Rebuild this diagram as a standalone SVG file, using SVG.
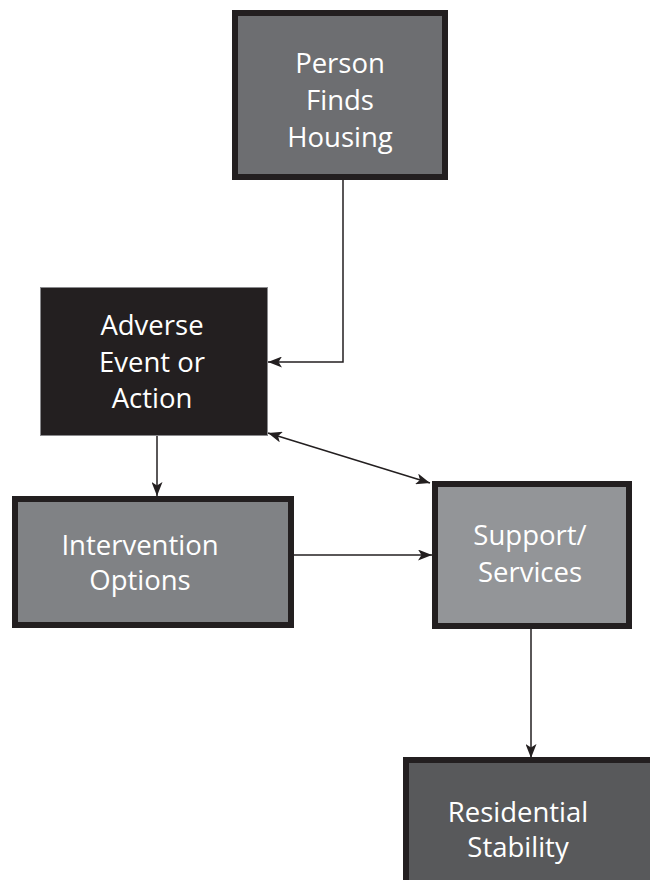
<svg xmlns="http://www.w3.org/2000/svg" width="650" height="880" viewBox="0 0 650 880">
<style>
.box{stroke:#231f20;stroke-width:6}
.t{font-family:"Open Sans","Liberation Sans",sans-serif;font-size:27.5px;fill:#ffffff;text-anchor:middle}
.c{fill:none;stroke:#231f20;stroke-width:1.5}
</style>
<defs>
<marker id="ah" viewBox="0 0 14 11" refX="14" refY="5.5" markerWidth="14" markerHeight="11" markerUnits="userSpaceOnUse" orient="auto-start-reverse">
<path d="M0,0 L14,5.5 L0,11 L3.5,5.5 Z" fill="#231f20"/>
</marker>
</defs>
<rect width="650" height="880" fill="#ffffff"/>
<g id="connectors">
<polyline class="c" points="343,180 343,362 268,362" marker-end="url(#ah)"/>
<line class="c" x1="157" y1="436" x2="157" y2="496" marker-end="url(#ah)"/>
<line class="c" x1="268" y1="433" x2="430" y2="483" marker-start="url(#ah)" marker-end="url(#ah)"/>
<line class="c" x1="294" y1="555" x2="432" y2="555" marker-end="url(#ah)"/>
<line class="c" x1="531" y1="629" x2="531" y2="758" marker-end="url(#ah)"/>
</g>
<g id="person-finds-housing">
<rect class="box" x="235" y="13" width="210" height="164" fill="#6d6e71"/>
<text class="t" x="340" y="73">Person</text>
<text class="t" x="340" y="110">Finds</text>
<text class="t" x="340" y="147">Housing</text>
</g>
<g id="adverse-event">
<rect x="40.5" y="287.5" width="227" height="148" fill="#231f20" stroke="#8a8a8d" stroke-width="1"/>
<text class="t" x="152" y="335">Adverse</text>
<text class="t" x="152" y="372">Event or</text>
<text class="t" x="152" y="408">Action</text>
</g>
<g id="intervention-options">
<rect class="box" x="15" y="499" width="276" height="126" fill="#808285"/>
<text class="t" x="140" y="555">Intervention</text>
<text class="t" x="140" y="590">Options</text>
</g>
<g id="support-services">
<rect class="box" x="435" y="484" width="194" height="142" fill="#939598"/>
<text class="t" x="530" y="545">Support/</text>
<text class="t" x="530" y="582">Services</text>
</g>
<g id="residential-stability">
<rect class="box" x="406" y="760" width="260" height="130" fill="#58595b"/>
<text class="t" x="518" y="822">Residential</text>
<text class="t" x="518" y="857">Stability</text>
</g>
</svg>
